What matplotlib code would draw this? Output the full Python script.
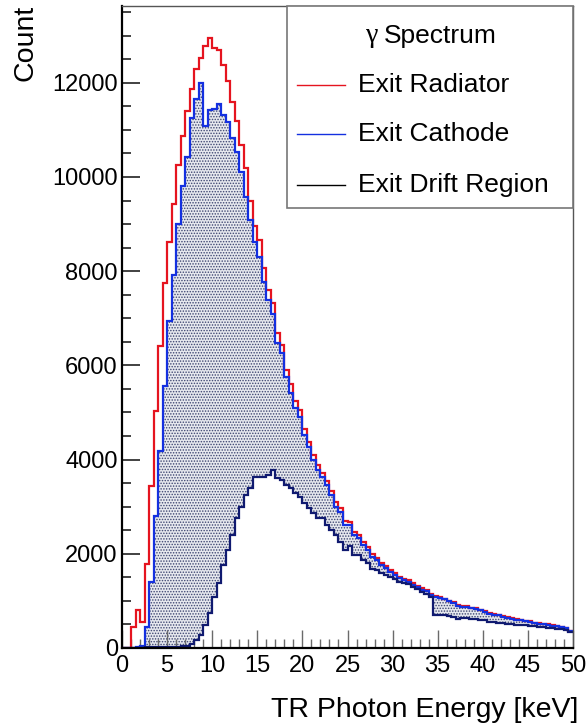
import numpy as np
import matplotlib
matplotlib.use("Agg")
import matplotlib.pyplot as plt
from matplotlib.ticker import MultipleLocator
from matplotlib.lines import Line2D
from matplotlib.patches import Rectangle

# ---------------- data (0.5 keV bins from 0 to 50 keV) ----------------
e_min, e_max, n_bins = 0.0, 50.0, 100

exit_radiator = [
    0, 0, 440, 800, 560, 1780, 3440, 5030, 6420, 7750,
    8610, 9430, 10250, 10880, 11400, 11870, 12300, 12520, 12780, 12950,
    12730, 12700, 12380, 12030, 11600, 11180, 10680, 10200, 9480, 8950,
    8660, 8060, 7600, 7320, 6680, 6430, 5900, 5600, 5240, 5050,
    4640, 4380, 4100, 3880, 3720, 3550, 3330, 3090, 2970, 2690,
    2680, 2470, 2390, 2250, 2140, 1995, 1920, 1810, 1735, 1660,
    1590, 1515, 1470, 1440, 1370, 1315, 1265, 1225, 1150, 1110,
    1080, 1050, 1005, 970, 915, 885, 900, 855, 845, 815,
    785, 735, 715, 700, 675, 655, 635, 615, 600, 580,
    570, 540, 530, 510, 500, 480, 475, 450, 430, 370,
]

exit_cathode = [
    0, 0, 0, 15, 40, 455, 1400, 2800, 4190, 5560,
    6935, 7920, 9000, 9800, 10420, 11260, 11650, 12000, 11080, 11420,
    11440, 11550, 11310, 11170, 10820, 10540, 10110, 9580, 9090, 8630,
    8310, 7780, 7390, 7100, 6470, 6260, 5760, 5420, 5090, 4910,
    4520, 4275, 3990, 3780, 3640, 3460, 3250, 3000, 2895, 2610,
    2610, 2400, 2330, 2190, 2080, 1940, 1870, 1760, 1690, 1620,
    1550, 1480, 1440, 1410, 1340, 1290, 1240, 1200, 1130, 1090,
    1060, 1030, 990, 950, 900, 870, 880, 840, 830, 800,
    770, 720, 700, 690, 660, 640, 625, 600, 590, 570,
    560, 530, 520, 500, 490, 470, 465, 440, 420, 360,
]

exit_drift = [
    0, 0, 0, 5, 10, 15, 15, 20, 15, 20,
    25, 20, 30, 40, 50, 90, 170, 280, 490, 735,
    1090, 1370, 1760, 2080, 2400, 2750, 3000, 3250, 3390, 3620,
    3620, 3640, 3670, 3780, 3600, 3570, 3460, 3390, 3300, 3210,
    3070, 2965, 2860, 2750, 2750, 2610, 2505, 2400, 2260, 2080,
    2165, 1975, 1975, 1870, 1800, 1670, 1655, 1585, 1550, 1515,
    1460, 1410, 1390, 1360, 1290, 1245, 1195, 1150, 1085, 700,
    690, 690, 680, 660, 620, 640, 630, 620, 610, 600,
    590, 560, 560, 540, 530, 510, 500, 495, 490, 480,
    470, 460, 450, 440, 430, 420, 410, 395, 380, 330,
]

legend_title = "Spectrum"
legend_labels = ["Exit Radiator", "Exit Cathode", "Exit Drift Region"]
x_label = "TR Photon Energy [keV]"
y_label = "Count"

# ---------------- style ----------------
RED = "#e5141f"
BLUE = "#1430e0"
DARK = "#101a70"
W, H = 587, 727

plt.rcParams["font.family"] = ["Liberation Sans", "DejaVu Sans"]
plt.rcParams["hatch.linewidth"] = 0.7

fig = plt.figure(figsize=(W / 100, H / 100), dpi=100)
ax = fig.add_axes([122 / W, 1 - 648 / H, (573 - 122) / W, (648 - 6) / H])

edges = np.linspace(e_min, e_max, n_bins + 1)

# dotted fill of the cathode histogram, white fill of the drift histogram
ax.stairs(exit_cathode, edges, fill=True, facecolor="#e6e8ee",
          edgecolor="#3c4470", hatch="......", linewidth=0, zorder=1)
ax.stairs(exit_drift, edges, fill=True, facecolor="white",
          edgecolor="white", linewidth=0, zorder=1.1)

ax.stairs(exit_radiator, edges, color=RED, linewidth=1.6, baseline=None, zorder=2)
ax.stairs(exit_cathode, edges, color=BLUE, linewidth=1.6, baseline=None, zorder=2.1)
ax.stairs(exit_drift, edges, color=DARK, linewidth=1.6, baseline=None, zorder=2.2)

ax.set_xlim(e_min, e_max)
ax.set_ylim(0, 13630)

ax.xaxis.set_major_locator(MultipleLocator(5))
ax.xaxis.set_minor_locator(MultipleLocator(1))
ax.yaxis.set_major_locator(MultipleLocator(2000))
ax.yaxis.set_minor_locator(MultipleLocator(500))

ax.tick_params(axis="x", which="major", direction="in", length=13, width=1.0,
               color="#6a6a6a", labelsize=17, pad=5, top=False)
ax.tick_params(axis="x", which="minor", direction="in", length=6.5, width=1.0,
               color="#6a6a6a", top=False)
ax.tick_params(axis="y", which="major", direction="in", length=13, width=1.3,
               color="#333333", labelsize=17, pad=3, right=False)
ax.tick_params(axis="y", which="minor", direction="in", length=6.5, width=1.3,
               color="#333333", right=False)

for s in ["left", "bottom"]:
    ax.spines[s].set_linewidth(1.6)
    ax.spines[s].set_color("black")
for s in ["top", "right"]:
    ax.spines[s].set_linewidth(1.0)
    ax.spines[s].set_color("#555555")

fig.text(26 / W, 1 - 5 / H, y_label, rotation=90, ha="center", va="top", fontsize=20.5)
fig.text(578 / W, 1 - 710 / H, x_label, ha="right", va="center", fontsize=20.5)

# ---------------- legend box (ROOT style) ----------------
lx0, lx1, ly0, ly1 = 287, 573, 6, 208
fig.patches.append(Rectangle((lx0 / W, 1 - ly1 / H), (lx1 - lx0) / W, (ly1 - ly0) / H,
                             transform=fig.transFigure, facecolor="white",
                             edgecolor="#777777", linewidth=1.2, zorder=5))
fig.text(372 / W, 1 - 36 / H, "\u03b3", ha="center", va="center", fontsize=20,
         family=["Liberation Serif", "DejaVu Serif"], zorder=6)
fig.text(384 / W, 1 - 36 / H, legend_title, ha="left", va="center", fontsize=19, zorder=6)
entry_y = [85, 134, 185]
entry_colors = [RED, BLUE, "black"]
for yy, lab, col in zip(entry_y, legend_labels, entry_colors):
    fig.lines.append(Line2D([297 / W, 345 / W], [1 - yy / H, 1 - yy / H],
                            transform=fig.transFigure, color=col, linewidth=1.0, zorder=6))
    fig.text(358 / W, 1 - yy / H, lab, ha="left", va="center", fontsize=19, zorder=6)

fig.savefig("out.png", dpi=100)
